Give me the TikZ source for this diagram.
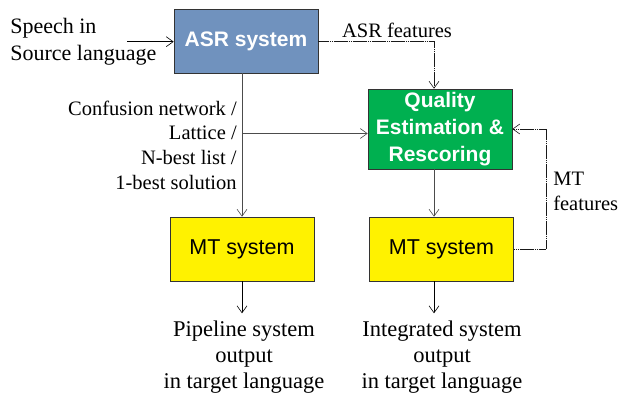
\documentclass[tikz,border=0pt]{standalone}
\usepackage{fontspec}
\setmainfont{Liberation Serif}
\setsansfont{Liberation Sans}
\usetikzlibrary{positioning, arrows.meta, calc}

\definecolor{asrblue}{RGB}{112,146,190}
\definecolor{qegreen}{RGB}{0,176,80}

\begin{document}
\begin{tikzpicture}[x=1pt, y=-1pt, >={Straight Barb[length=7pt,width=10pt]}, semithick,
    box/.style={draw=black!80, minimum width=144pt, inner sep=0pt, align=center,
        font=\sffamily\fontsize{21.5}{27}\selectfont},
    boldbox/.style={box, text=white, font=\sffamily\bfseries\fontsize{21}{27}\selectfont},
    lbl/.style={inner sep=0pt, font=\fontsize{20.5}{24.7}\selectfont},
    outtext/.style={inner sep=0pt, align=center, font=\fontsize{22.5}{26}\selectfont},
    link/.style={black!70},
    feat/.style={black!90, dash pattern=on 1.6pt off 0.3pt}]
    \useasboundingbox (0,0) rectangle (619,396);

    % boxes
    \node[boldbox, fill=asrblue, minimum height=64pt] (asr) at (246,41) {ASR system};
    \node[boldbox, fill=qegreen, minimum height=80pt] (qe) at (440,129) {Quality\\Estimation \&\\Rescoring};
    \node[box, fill=yellow, minimum height=64pt] (mtA) at (242,249) {MT system};
    \node[box, fill=yellow, minimum height=64pt] (mtB) at (441.5,249) {MT system};

    % texts
    \node[lbl, anchor=west, align=left, font=\fontsize{22}{26.5}\selectfont] (src) at (10,41.5) {Speech in\\Source language};
    \coordinate (srcend) at (127,41.7);
    \node[lbl, anchor=east, align=right] (hyp) at (237,145) {Confusion network /\\Lattice /\\N-best list /\\1-best solution};
    \node[lbl] (asrf) at (397,30) {ASR features};
    \node[lbl, anchor=west, align=left] (mtf) at (553,191.5) {MT\\features};
    \node[outtext] (outA) at (244,357) {Pipeline system\\output\\in target language};
    \node[outtext] (outB) at (442,357) {Integrated system\\output\\in target language};
    \coordinate (fork) at (242,133.5);

    % connectors
    \draw[->] (srcend) -- (asr.west |- srcend);
    \draw[feat, ->] (asr.east) -| ($(qe.north)+(-6,0)$);
    \draw[link, ->] (asr.south -| mtA) -- (mtA.north);
    \draw[link, ->] (fork) -- (fork -| qe.west);
    \draw[link, ->] ($(qe.south)+(-6,0)$) -- ($(mtB.north)+(-7.5,0)$);
    \draw[feat, ->] (mtB.east) -- ++(32,0) |- (qe.east);
    \draw[->] (mtA.south) -- ++(0,32);
    \draw[->] ($(mtB.south)+(-7.5,0)$) -- ++(0,32);
\end{tikzpicture}
\end{document}
